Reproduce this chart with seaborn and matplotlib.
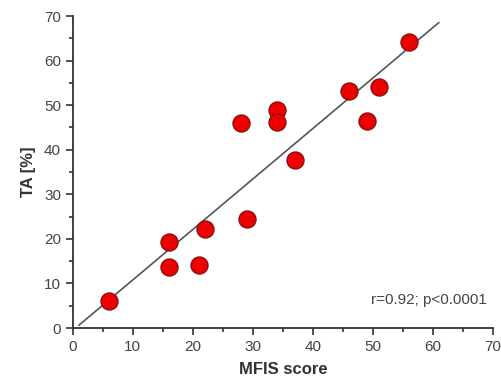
import numpy as np
import pandas as pd
import matplotlib
matplotlib.use("Agg")
import matplotlib.pyplot as plt
from matplotlib.ticker import MultipleLocator
import seaborn as sns

# MFIS score vs TA [%]
mfis = [6, 16, 16, 21, 22, 28, 29, 34, 34, 37, 46, 49, 51, 56]
ta = [6.0, 19.2, 13.7, 14.1, 22.2, 46.0, 24.5, 48.9, 46.3, 37.7, 53.2, 46.4, 54.1, 64.2]
line_x = [1, 61]

df = pd.DataFrame({"MFIS score": mfis, "TA [%]": ta})

sns.set_style("ticks")
plt.rcParams['font.family'] = ['Liberation Sans', 'DejaVu Sans']

fig = plt.figure(figsize=(5.02, 3.81), dpi=100)
ax = fig.add_axes([0.145, 0.139, 0.837, 0.819])

# regression line from the points
slope, icpt = np.polyfit(mfis, ta, 1)
lx = np.array(line_x, dtype=float)
ax.plot(lx, slope * lx + icpt, color="#555555", lw=1.2, zorder=1)

sns.scatterplot(data=df, x="MFIS score", y="TA [%]", ax=ax, s=150,
                color="#ee0000", edgecolor="#8b1010", linewidth=1.0, zorder=3)

ax.set_xlim(0, 70)
ax.set_ylim(0, 70)
ax.xaxis.set_major_locator(MultipleLocator(10))
ax.xaxis.set_minor_locator(MultipleLocator(5))
ax.yaxis.set_major_locator(MultipleLocator(10))
ax.yaxis.set_minor_locator(MultipleLocator(5))
ax.tick_params(which="major", length=5, width=1.2, color="#333333",
               labelsize=11, labelcolor="#444444")
ax.tick_params(which="minor", length=3, width=1.2, color="#333333")
for s in ["left", "bottom"]:
    ax.spines[s].set_linewidth(1.3)
    ax.spines[s].set_color("#333333")
sns.despine(ax=ax)

ax.set_xlabel("MFIS score", fontsize=12, fontweight="bold", color="#333333", labelpad=6)
ax.set_ylabel("TA [%]", fontsize=12, fontweight="bold", color="#333333", labelpad=6)

ax.text(0.985, 0.09, "r=0.92; p<0.0001", transform=ax.transAxes, ha="right",
        va="center", fontsize=11, color="#444444")

fig.savefig("out.png", dpi=100)
